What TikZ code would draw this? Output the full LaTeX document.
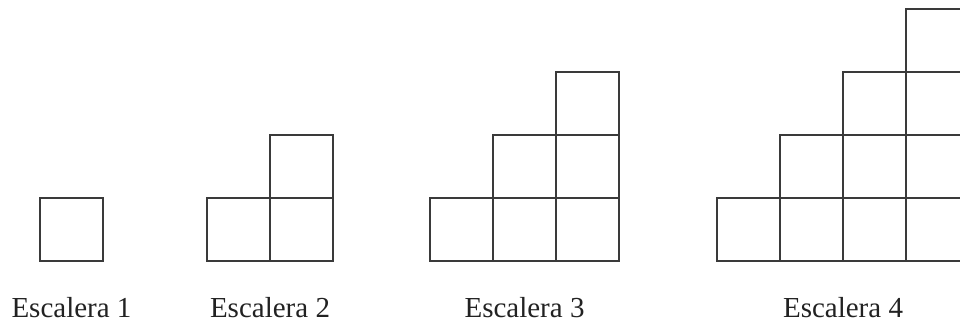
\documentclass[tikz,border=0pt]{standalone}
\usepackage{fontspec}
\setmainfont{Liberation Serif}
\definecolor{linegray}{HTML}{3A3A3A}
\definecolor{textgray}{HTML}{222222}
\begin{document}
\begin{tikzpicture}[x=1pt,y=-1pt,
  cell/.style={draw=linegray,line width=1.4pt,minimum size=63pt,inner sep=0pt,outer sep=0pt},
  lbl/.style={anchor=base,font=\fontsize{29}{34}\selectfont,text=textgray,inner sep=0pt}]
\useasboundingbox (0,0) rectangle (960,322);
\clip (0,0) rectangle (960,322);
% staircases: k / left edge
\foreach \k/\L in {1/40,2/207,3/430,4/717}{
  \pgfmathtruncatemacro{\last}{\k-1}
  \foreach \i in {0,...,\last}{
    \foreach \j in {0,...,\i}{
      \node[cell] (s\k-\i-\j) at ({\L+63*\i+31.5},{261-63*\j-31.5}) {};
    }
  }
  \node[lbl] (lab\k) at ({\L+31.5*\k},317) {Escalera \k};
}
\end{tikzpicture}
\end{document}
